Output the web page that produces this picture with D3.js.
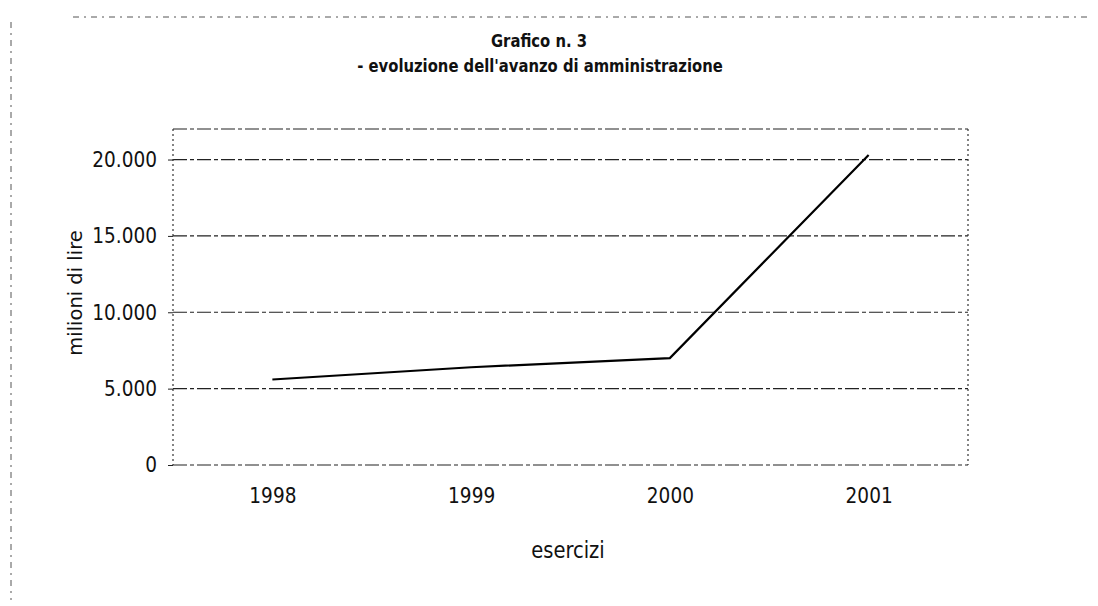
<!DOCTYPE html>
<html>
<head>
<meta charset="utf-8">
<title>Grafico n. 3</title>
<style>
  body { margin: 0; background: #fff; }
  svg text { font-family: "DejaVu Sans", Verdana, sans-serif; fill: #111; }
  svg text.tall { transform-box: fill-box; transform-origin: center; transform: scaleY(1.16); }
  .title { font-weight: bold; font-size: 14.8px; }
  .grid line { stroke: #222; stroke-width: 1.2; stroke-dasharray: 14,3,4,3; }
  .frame { fill: none; stroke: #333; stroke-width: 1.2; stroke-dasharray: 2,3; }
  .page line { stroke: #555; stroke-dasharray: 6,5,2,5; }
  .axis text { font-size: 18.5px; }
  .axis path { display: none; }
  .axis line { stroke: #222; }
  .label { font-size: 19.5px; }
</style>
</head>
<body>
<svg width="1098" height="606"></svg>
<script src="https://d3js.org/d3.v7.min.js"></script>
<script>
  // data (milioni di lire)
  var years = ["1998", "1999", "2000", "2001"];
  var avanzo = [5600, 6400, 7000, 20300];
  var yTicks = [0, 5000, 10000, 15000, 20000];
  var yMax = 22000;

  var svg = d3.select("svg"),
    plotLeft = 173, plotRight = 968, plotTop = 129, plotBottom = 465;

  var it = d3.formatLocale({ decimal: ",", thousands: ".", grouping: [3], currency: ["", ""] });
  var fmt = it.format(",d");

  var x = d3.scalePoint().domain(years).range([plotLeft, plotRight]).padding(0.5);
  var y = d3.scaleLinear().domain([0, yMax]).range([plotBottom, plotTop]);

  // faint page border from the scanned sheet
  var page = svg.append("g").attr("class", "page");
  page.append("line").attr("x1", 73).attr("x2", 1090).attr("y1", 17).attr("y2", 17);
  page.append("line").attr("x1", 11).attr("x2", 11).attr("y1", 22).attr("y2", 600);

  // titles
  svg.append("text").attr("class", "title tall")
    .attr("x", 539).attr("y", 46).attr("text-anchor", "middle")
    .text("Grafico n. 3");
  svg.append("text").attr("class", "title tall")
    .attr("x", 540).attr("y", 71).attr("text-anchor", "middle")
    .text("- evoluzione dell'avanzo di amministrazione");

  // gridlines, top one closes the plot frame
  svg.append("g").attr("class", "grid")
    .selectAll("line")
    .data(yTicks.concat([yMax]))
    .enter().append("line")
    .attr("x1", plotLeft).attr("x2", plotRight)
    .attr("y1", function (d) { return y(d); })
    .attr("y2", function (d) { return y(d); });

  // dotted sides
  svg.append("line").attr("class", "frame")
    .attr("x1", plotLeft).attr("x2", plotLeft).attr("y1", y(yMax)).attr("y2", y(0));
  svg.append("line").attr("class", "frame")
    .attr("x1", plotRight).attr("x2", plotRight).attr("y1", y(yMax)).attr("y2", y(0));

  // axes
  svg.append("g").attr("class", "axis")
    .attr("transform", "translate(" + plotLeft + ",0)")
    .call(d3.axisLeft(y).tickValues(yTicks).tickFormat(fmt).tickSize(5).tickPadding(11))
    .selectAll("text").classed("tall", true);

  svg.append("g").attr("class", "axis")
    .attr("transform", "translate(0," + plotBottom + ")")
    .call(d3.axisBottom(x).tickSize(0).tickPadding(24))
    .selectAll("text").classed("tall", true);

  // axis titles
  svg.append("text").attr("class", "label")
    .attr("transform", "translate(82,293) rotate(-90)")
    .attr("text-anchor", "middle")
    .text("milioni di lire");
  svg.append("text").attr("class", "label tall")
    .attr("x", 568).attr("y", 557).attr("text-anchor", "middle")
    .text("esercizi");

  // series
  var line = d3.line()
    .x(function (d, i) { return x(years[i]); })
    .y(function (d) { return y(d); });

  svg.append("path")
    .datum(avanzo)
    .attr("d", line)
    .attr("fill", "none")
    .attr("stroke", "#000")
    .attr("stroke-width", 2.2);
</script>
</body>
</html>
